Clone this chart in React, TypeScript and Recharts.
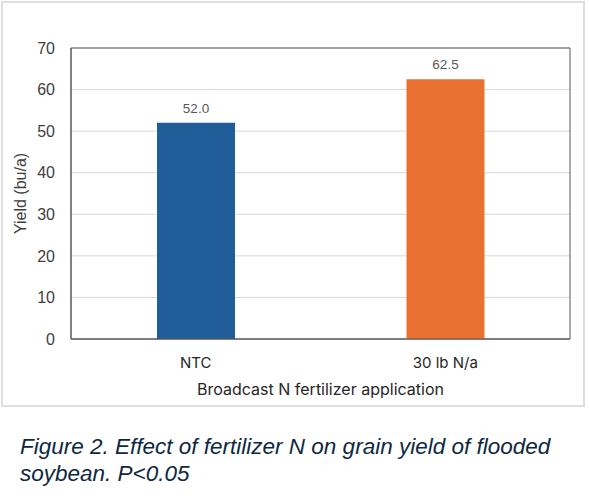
import React from 'react';
import {
  BarChart,
  Bar,
  Cell,
  XAxis,
  YAxis,
  CartesianGrid,
  LabelList,
  ReferenceArea,
} from 'recharts';

// Values
const treatments = ['NTC', '30 lb N/a'];
const yieldBuA = [52.0, 62.5];
const barColors = ['#215e99', '#e97132'];
const yTicks = [0, 10, 20, 30, 40, 50, 60, 70];

const data = treatments.map((name, i) => ({ name, yield: yieldBuA[i] }));

const chartFont = '"Liberation Sans", Arial, sans-serif';
const labelFont = 'Inter, "Open Sans", sans-serif';

export default function App() {
  return (
    <div
      style={{
        position: 'absolute',
        left: 0,
        top: 0,
        width: 589,
        height: 500,
        background: '#fff',
      }}
    >
      <div
        style={{
          position: 'absolute',
          left: 1,
          top: 1,
          width: 580,
          height: 402,
          border: '2px solid #dedede',
        }}
      />
      <div style={{ position: 'absolute', left: 0, top: 0 }}>
        <BarChart
          width={589}
          height={410}
          data={data}
          margin={{ top: 48, right: 19, bottom: 11, left: 0 }}
        >
          <CartesianGrid vertical={false} stroke="#d9d9d9" />
          <XAxis
            dataKey="name"
            height={60}
            axisLine={{ stroke: '#595959' }}
            tickLine={false}
            tickMargin={12}
            tick={{ fontSize: 15, fill: '#262626', fontFamily: labelFont }}
            label={{
              value: 'Broadcast N fertilizer application',
              position: 'insideBottom',
              offset: 4,
              style: { fontSize: 16, fill: '#262626', fontFamily: labelFont },
            }}
          />
          <YAxis
            width={71}
            domain={[0, 70]}
            ticks={yTicks}
            axisLine={{ stroke: '#595959' }}
            tickLine={false}
            tickMargin={10}
            tick={{ fontSize: 16, fill: '#404040', fontFamily: chartFont }}
            label={{
              value: 'Yield (bu/a)',
              angle: -90,
              position: 'insideLeft',
              offset: 20,
              style: {
                fontSize: 16,
                fill: '#404040',
                fontFamily: chartFont,
                textAnchor: 'middle',
              },
            }}
          />
          <ReferenceArea
            y1={0}
            y2={70}
            fill="none"
            stroke="#595959"
            strokeOpacity={1}
            ifOverflow="visible"
          />
          <Bar dataKey="yield" barSize={78} isAnimationActive={false}>
            {data.map((d, i) => (
              <Cell key={d.name} fill={barColors[i]} />
            ))}
            <LabelList
              dataKey="yield"
              position="top"
              offset={10}
              formatter={(v: number) => v.toFixed(1)}
              style={{ fontSize: 13.5, fill: '#595959', fontFamily: chartFont }}
            />
          </Bar>
        </BarChart>
      </div>
      <div
        style={{
          position: 'absolute',
          left: 20,
          top: 433,
          width: 550,
          fontFamily: chartFont,
          fontStyle: 'italic',
          fontSize: 22.5,
          lineHeight: '27px',
          color: '#0e2841',
        }}
      >
        Figure 2. Effect of fertilizer N on grain yield of flooded soybean. P&lt;0.05
      </div>
    </div>
  );
}
